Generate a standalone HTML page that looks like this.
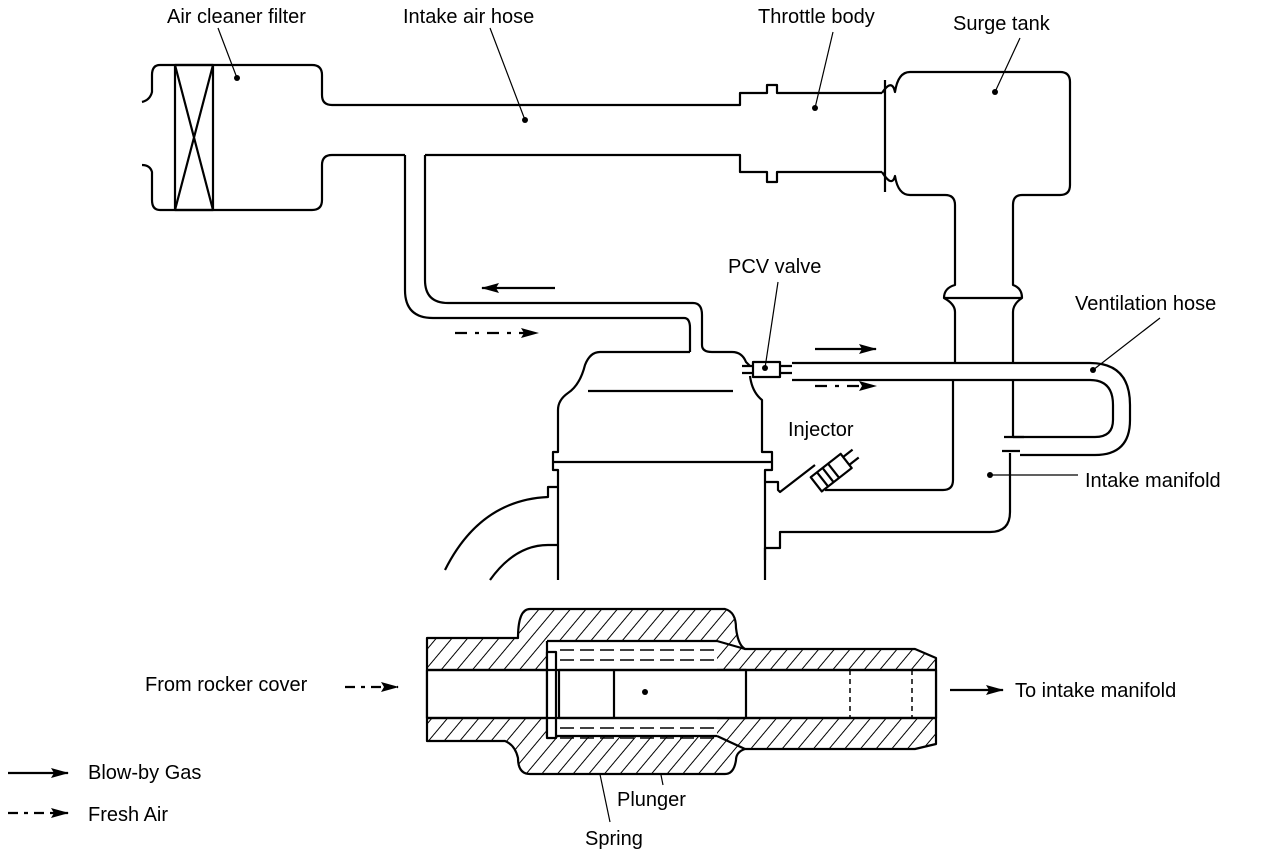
<!DOCTYPE html>
<html><head><meta charset="utf-8"><style>
html,body{margin:0;padding:0;background:#fff;}
svg{display:block;}
text{font-family:"Liberation Sans",Arial,sans-serif;font-size:20px;fill:#000;}
</style></head><body>
<svg width="1264" height="858" viewBox="0 0 1264 858" xmlns="http://www.w3.org/2000/svg">
<defs>
<pattern id="h" width="12" height="12" patternUnits="userSpaceOnUse" patternTransform="rotate(40)">
<rect width="12" height="12" fill="#fff"/><line x1="0" y1="0" x2="0" y2="12" stroke="#000" stroke-width="2"/></pattern>
<marker id="a" markerWidth="20" markerHeight="12" refX="17" refY="6" orient="auto" markerUnits="userSpaceOnUse"><path d="M0,1 L18,6 L0,11 L3,6 Z" fill="#000" stroke="none"/></marker>
</defs>
<g fill="none" stroke="#000" stroke-width="2.2" stroke-linejoin="round">
<!-- air cleaner -->
<path d="M160,65 H312 Q322,65 322,75 V95 Q322,105 332,105"/>
<path d="M332,155 Q322,155 322,165 V200 Q322,210 312,210 H160 Q152,210 152,200 V172 Q150,165 142,165"/>
<path d="M142,102 Q150,100 152,92 V75 Q152,65 160,65"/>
<rect x="175" y="65" width="38" height="145"/>
<path d="M175,65 L213,210 M213,65 L175,210"/>
<!-- intake hose -->
<path d="M332,105 H740 V93 H767 V85 H777 V93 H882"/>
<path d="M332,155 H405 M425,155 H740 V172 H767 V182 H777 V172 H882"/>
<path d="M885,80 V192"/>
<path d="M882,93 Q892,78 895,92 Q898,72 910,72 H1060 Q1070,72 1070,82 V185 Q1070,195 1060,195 H1022 Q1013,195 1013,205 V285 Q1022,288 1022,298 Q1013,304 1013,312 V363"/>
<path d="M882,172 Q892,188 895,176 Q898,195 910,195 H945 Q955,195 955,205 V285 Q944,288 944,298 Q955,304 955,312 V363"/>
<path d="M944,298 H1022"/>
<!-- breather pipe -->
<path d="M405,155 V290 Q405,318 433,318 H684 Q690,318 690,328 V352"/>
<path d="M425,155 V280 Q425,303 448,303 H693 Q702,303 702,315 V345 Q702,352 712,352"/>
<!-- head -->
<path d="M690,352 H600 Q590,352 585,365 Q580,385 568,393 Q558,400 558,410 V452 H553 V470 H558 V580"/>
<path d="M712,352 H732 Q742,352 746,362 L750,366"/>
<path d="M750,376 Q752,392 762,400 V452 H772 V470 H765 V580"/>
<path d="M588,391 H733"/>
<path d="M553,462 H772"/>
<path d="M558,487 H548 V497 Q480,500 445,570"/>
<path d="M558,545 H548 Q515,545 490,580"/>
<path d="M765,482 H778 V490 L780,492 L815,465"/>
<path d="M765,560 V548 H780 V532 H990 Q1010,532 1010,512 V453"/>
<!-- PCV -->
<rect x="753" y="362" width="27" height="15"/>
<path d="M742,366 H753 M742,373 H753 M780,366 H792 M780,373 H792"/>
<!-- ventilation hose -->
<path d="M792,363 H1090 Q1130,363 1130,405 V420 Q1130,455 1095,455 H1020"/>
<path d="M792,380 H1090 Q1113,380 1113,405 V420 Q1113,437 1095,437 H1013"/>
<path d="M1013,380 V437 M1004,437 H1024 M1002,451 H1020"/>
<path d="M953,380 V480 Q953,490 943,490 H825"/>
<!-- injector -->
<g transform="translate(832,472) rotate(-38)">
<rect x="-20" y="-9" width="38" height="18"/>
<path d="M-12,-9 V9 M-5,-9 V9 M2,-9 V9 M18,-5 H30 M18,5 H30"/>
</g>
<!-- leaders -->
<g stroke-width="1.2">
<path d="M218,28 L237,78 M490,28 L525,120 M833,32 L815,108 M1020,38 L995,92 M778,282 L765,368 M1160,318 L1093,370 M990,475 L1078,475 M645,695 L663,785 M589,722 L610,822"/>
</g>
<!-- arrows -->
<path d="M555,288 H482" marker-end="url(#a)"/>
<path d="M455,333 H538" stroke-dasharray="12,8,4,8" marker-end="url(#a)"/>
<path d="M815,349 H876" marker-end="url(#a)"/>
<path d="M815,386 H876" stroke-dasharray="12,8,4,8" marker-end="url(#a)"/>
<path d="M345,687 H398" stroke-dasharray="10,6,4,6" marker-end="url(#a)"/>
<path d="M950,690 H1003" marker-end="url(#a)"/>
<path d="M8,773 H68" marker-end="url(#a)"/>
<path d="M8,813 H68" stroke-dasharray="10,6,4,6" marker-end="url(#a)"/>
<!-- PCV valve section -->
<path fill="url(#h)" d="M427,638 H518 Q518,609 530,609 H725 Q736,612 736,628 Q738,645 745,649 H915 L936,658 V744 L915,749 H745 Q736,752 736,760 Q734,774 725,774 H530 Q518,774 518,758 Q515,745 505,741 L427,741 Z"/>
<rect x="427" y="670" width="509" height="48" fill="#fff"/>
<rect x="547" y="641" width="170" height="95" fill="#fff" stroke="none"/>
<path d="M547,641 V736 H717 M547,641 H717 L745,649 M717,736 L745,749"/>
<rect x="559" y="670" width="187" height="48" fill="#fff"/>
<path d="M614,670 V718"/>
<rect x="547" y="652" width="9" height="86" fill="#fff"/>
<path d="M560,650 H720 M560,660 H720 M560,728 H720 M560,738 H720" stroke-width="1.5" stroke-dasharray="14,6"/>
<path d="M850,670 V718 M912,670 V718" stroke-dasharray="5,4" stroke-width="1.5"/>
<path d="M427,670 H936 M427,718 H936"/>
</g>
<g fill="#000">
<circle cx="237" cy="78" r="3"/><circle cx="525" cy="120" r="3"/><circle cx="815" cy="108" r="3"/><circle cx="995" cy="92" r="3"/>
<circle cx="765" cy="368" r="3"/><circle cx="1093" cy="370" r="3"/><circle cx="990" cy="475" r="3"/><circle cx="645" cy="692" r="3"/>
</g>
<text x="167" y="23">Air cleaner filter</text>
<text x="403" y="23">Intake air hose</text>
<text x="758" y="23">Throttle body</text>
<text x="953" y="30">Surge tank</text>
<text x="728" y="273">PCV valve</text>
<text x="1075" y="310">Ventilation hose</text>
<text x="788" y="436">Injector</text>
<text x="1085" y="487">Intake manifold</text>
<text x="145" y="691">From rocker cover</text>
<text x="1015" y="697">To intake manifold</text>
<text x="88" y="779">Blow-by Gas</text>
<text x="88" y="821">Fresh Air</text>
<text x="617" y="806">Plunger</text>
<text x="585" y="845">Spring</text>
</svg>
</body></html>
